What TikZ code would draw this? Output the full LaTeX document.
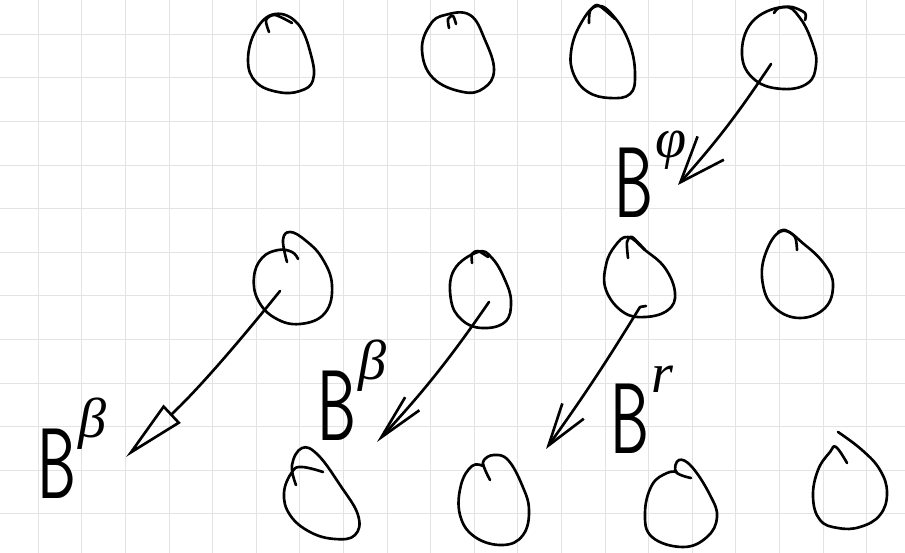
\documentclass[tikz,border=0pt]{standalone}
\usepackage{fontspec}
\newfontfamily\grk{Liberation Serif}
\usetikzlibrary{arrows.meta}

\newcommand{\bsup}[1]{\scalebox{0.62}[1]{B}\hspace{0.02em}\raisebox{0.6em}{\fontsize{32}{32}\selectfont\grk\itshape #1}}

\begin{document}
\begin{tikzpicture}[x=0.02cm, y=-0.02cm]

	\tikzset{gridline/.style={gray!22, line width=0.5pt}}
	\tikzset{pen/.style={black, line width=1.5pt, line cap=round, line join=round}}
	\tikzset{blob/.style={pen, smooth, tension=0.7}}
	\tikzset{lab/.style={font=\fontsize{57}{60}\selectfont\sffamily, inner sep=0pt, anchor=base west}}

	% Parameters
	\def\gstep{43.6}   % grid step
	\def\gx{38.3}      % first vertical line
	\def\gy{34.3}      % first horizontal line

	\useasboundingbox (0,0) rectangle (905,553);

	% grid
	\foreach \k in {0,...,19}
		\draw[gridline] (\gx+\k*\gstep,0) -- (\gx+\k*\gstep,553);
	\foreach \k in {0,...,11}
		\draw[gridline] (0,\gy+\k*\gstep) -- (905,\gy+\k*\gstep);

	%top row
	\draw[blob] plot[smooth cycle] coordinates {(275,14) (298,24) (311,55) (313,80) (300,91) (278,92) (256,82) (248,60) (256,30)};
	\draw[pen] plot[smooth] coordinates {(269,32) (266,20) (275,15) (292,23)};

	\draw[blob] plot[smooth cycle] coordinates {(445,15) (470,15) (485,40) (494,70) (484,88) (463,92) (433,78) (422,50) (430,25)};
	\draw[pen] plot[smooth] coordinates {(449,28) (448,19) (453,16) (456,24)};

	\draw[blob] plot[smooth cycle] coordinates {(597,6) (615,18) (630,45) (635,75) (630,94) (610,98) (588,92) (574,75) (571,52) (580,25)};
	\draw[pen] plot[smooth] coordinates {(589,23) (590,11) (597,5) (606,11) (615,19)};

	\draw[blob] plot[smooth cycle] coordinates {(783,7) (800,18) (813,45) (816,65) (808,83) (783,89) (755,80) (742,55) (752,22)};
	\draw[pen] plot[smooth] coordinates {(774,13) (779,8) (792,7) (805,13) (805,20)};

	%middle row
	\draw[blob] plot coordinates {(287,262) (283,240) (290,232) (305,240) (322,258) (332,285) (325,313) (300,324) (275,318) (258,300) (254,277) (262,258) (278,250) (292,252) (298,259)};

	\draw[blob] plot[smooth cycle] coordinates {(478,252) (492,258) (505,280) (511,302) (505,322) (482,328) (462,320) (451,300) (454,270)};
	\draw[pen] plot[smooth] coordinates {(472,263) (472,254) (478,251) (488,257)};

	\draw[blob] plot[smooth cycle] coordinates {(628,237) (645,250) (665,268) (675,293) (668,310) (645,317) (623,312) (606,290) (606,265) (615,246)};
	\draw[pen] plot[smooth] coordinates {(628,258) (627,242) (632,237) (645,250)};

	\draw[blob] plot[smooth cycle] coordinates {(782,231) (805,245) (825,265) (833,285) (825,308) (800,318) (775,308) (763,285) (765,255)};
	\draw[pen] plot[smooth] coordinates {(797,250) (795,237) (785,230) (778,232)};

	%bottom row
	\draw[blob] plot coordinates {(296,485) (292,465) (302,448) (318,455) (340,485) (358,515) (355,535) (335,539) (310,532) (290,515) (284,493) (292,472) (302,467) (323,472)};

	\draw[blob] plot coordinates {(490,480) (484,467) (484,460) (494,455) (508,460) (522,485) (529,510) (523,535) (503,545) (475,537) (460,515) (461,485) (472,466) (483,466)};

	\draw[blob] plot coordinates {(691,478) (676,472) (679,460) (692,467) (710,495) (717,517) (707,537) (683,547) (652,537) (645,513) (652,485) (667,473) (677,472)};

	\draw[blob] plot coordinates {(838,432) (862,450) (880,470) (887,493) (880,515) (860,527) (838,528) (820,520) (813,497) (818,470) (830,452) (836,447) (847,463)};

	% arrows
	\coordinate (s1) at (771,64);
	\coordinate (t1) at (678,185);
	\coordinate (s2) at (280,291);
	\coordinate (t2) at (126,457);
	\coordinate (s3) at (489,302);
	\coordinate (t3) at (377,442);
	\coordinate (s4) at (640,307);
	\coordinate (t4) at (546,449);

	\draw[pen, -{Straight Barb[length=26pt, width=20pt]}] (s1) to[bend left=4] (t1);
	\draw[pen, -{Triangle[open, length=36pt, width=14pt]}] (s2) to[bend left=4] (t2);
	\draw[pen, -{Straight Barb[length=26pt, width=11pt]}] (s3) to[bend left=4] (t3);
	\draw[pen] (s4) -- (646,306);
	\draw[pen, -{Straight Barb[length=24pt, width=15pt]}] (s4) to[bend left=2] (t4);

	% labels
	\node[lab] (Bphi) at (614,218) {\bsup{φ}};
	\node[lab] (Bbeta1) at (37,498) {\bsup{β}};
	\node[lab] (Bbeta2) at (317,440) {\bsup{β}};
	\node[lab] (Br) at (610,453) {\bsup{r}};

\end{tikzpicture}
\end{document}
